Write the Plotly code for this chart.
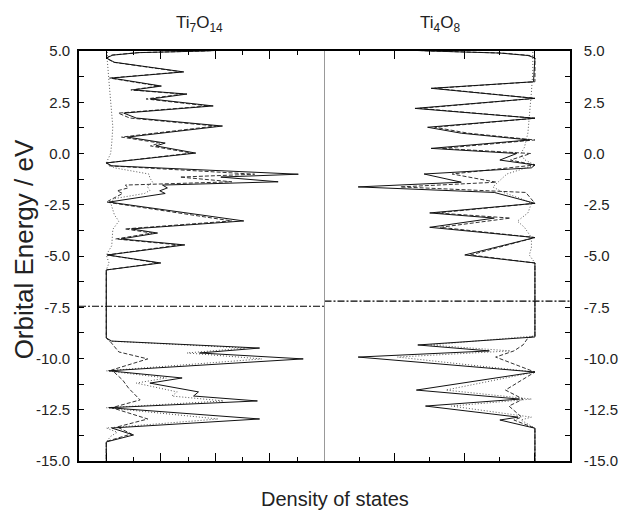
import plotly.graph_objects as go

# ---------------- Ti7O14 (left panel) ----------------
# total DOS (solid)
l_tot_E = [5.1, 5.0, 4.92, 4.80, 4.66, 4.45, 3.98, 3.68, 3.29, 3.10, 2.90, 2.66, 2.32, 1.97, 1.73,
           1.34, 0.80, 0.51, 0.37, 0.02, -0.46, -0.60, -1.01, -1.15, -1.38, -1.54, -1.68, -1.82,
           -1.95, -2.37, -3.29, -3.68, -3.88, -4.17, -4.46, -4.95, -5.34, -5.68, -9.00, -9.15,
           -9.49, -9.73, -10.02, -10.60, -10.95, -11.20, -11.63, -11.83, -12.07, -12.40, -12.95,
           -13.39, -13.73, -14.07, -15.0]
l_tot_D = [2.60, 1.80, 0.60, 0.12, 0.00, 0.15, 1.42, 0.10, 1.01, 0.50, 1.48, 0.82, 1.96, 0.32, 0.55,
           2.13, 0.39, 1.08, 0.91, 1.64, 0.00, 0.10, 3.52, 2.10, 3.15, 1.03, 1.12, 0.98,
           1.08, 0.05, 2.52, 0.46, 0.94, 0.27, 1.44, 0.02, 1.00, 0.00, 0.00, 0.10,
           2.81, 1.71, 3.61, 0.05, 1.39, 0.80, 1.69, 1.60, 2.77, 0.05, 2.81,
           0.10, 0.50, 0.00, 0.00]
# Ti partial DOS (dashed)
l_ti_E = [5.1, 5.0, 4.92, 4.80, 4.66, 4.45, 3.98, 3.68, 3.29, 3.10, 2.90, 2.66, 2.32, 1.97, 1.73,
          1.34, 0.80, 0.51, 0.37, 0.02, -0.46, -0.60, -1.01, -1.15, -1.38, -1.54, -1.68, -1.82,
          -1.95, -2.37, -3.29, -3.68, -3.88, -4.17, -4.46, -4.95, -5.34, -5.68, -9.00, -9.10,
          -9.68, -10.02, -10.56, -11.05, -11.45, -12.02, -12.40, -12.95, -13.34, -13.68, -14.05, -15.0]
l_ti_D = [2.58, 1.78, 0.58, 0.10, 0.00, 0.13, 1.38, 0.06, 0.96, 0.45, 1.40, 0.73, 1.87, 0.22, 0.43,
          2.01, 0.28, 0.98, 0.81, 1.56, 0.00, 0.05, 2.72, 1.35, 2.30, 0.35, 0.40, 0.20,
          0.30, 0.00, 2.30, 0.34, 0.84, 0.17, 1.34, 0.02, 0.95, 0.00, 0.00, 0.05,
          0.23, 0.76, 0.10, 0.30, 0.41, 0.62, 0.10, 0.76, 0.20, 0.46, 0.00, 0.00]
# O partial DOS (dotted)
l_o_E = [5.1, 4.5, 3.5, 2.3, 1.3, 0.5, 0.0, -0.46, -0.70, -1.00, -1.20, -1.40, -1.60, -1.80, -1.95,
         -2.20, -2.40, -3.00, -3.30, -3.70, -4.50, -4.95, -5.34, -5.68, -9.00, -9.15, -9.49, -9.73,
         -10.02, -10.60, -10.95, -11.20, -11.63, -11.83, -12.07, -12.40, -12.95, -13.39, -13.60,
         -13.80, -14.07, -15.0]
l_o_D = [0.02, 0.02, 0.05, 0.09, 0.12, 0.10, 0.08, 0.00, 0.15, 0.78, 0.80, 0.85, 0.75, 0.80, 0.70,
         0.15, 0.08, 0.15, 0.23, 0.12, 0.10, 0.00, 0.05, 0.00, 0.00, 0.05, 2.55, 1.48,
         2.85, 0.00, 1.10, 0.55, 1.30, 1.20, 2.15, 0.00, 2.05, 0.00, 0.20,
         0.08, 0.00, 0.00]
l_fermi = -7.45

# ---------------- Ti4O8 (right panel) ----------------
r_tot_E = [5.1, 5.0, 4.90, 4.78, 4.66, 3.50, 3.18, 2.69, 2.20, 1.72, 1.28, 0.99, 0.66, 0.25, 0.00,
           -0.32, -0.56, -0.70, -1.00, -1.40, -1.63, -1.90, -2.43, -2.90, -3.15, -3.60, -4.10,
           -4.95, -5.34, -8.95, -9.34, -9.63, -9.93, -10.66, -11.54, -11.98, -12.32, -12.86,
           -13.00, -13.40, -15.0]
r_tot_D = [2.20, 1.50, 0.50, 0.10, 0.00, 0.02, 1.48, 0.00, 1.71, 0.00, 1.53, 1.05, 0.08, 1.48, 0.26,
           0.50, 0.00, 0.05, 1.58, 1.05, 2.52, 0.58, 0.00, 1.50, 0.58, 1.50, 0.00,
           1.00, 0.00, 0.00, 1.67, 0.65, 2.52, 0.00, 1.69, 0.22, 1.56, 0.24,
           0.50, 0.00, 0.00]
r_ti_E = [5.1, 5.0, 4.90, 4.78, 4.66, 3.50, 3.18, 2.69, 2.20, 1.72, 1.28, 0.99, 0.66, 0.25, 0.00,
          -0.32, -0.56, -1.00, -1.40, -1.63, -1.90, -2.43, -2.90, -3.15, -3.60, -4.10,
          -4.95, -5.34, -8.90, -9.00, -9.34, -9.63, -9.93, -10.66, -11.54, -11.98, -12.32,
          -12.86, -13.00, -13.40, -15.0]
r_ti_D = [2.17, 1.47, 0.47, 0.07, 0.00, 0.00, 1.43, 0.00, 1.64, 0.00, 1.43, 0.95, 0.00, 1.33, 0.06,
          0.35, 0.00, 1.18, 0.55, 1.92, 0.13, 0.00, 1.40, 0.35, 1.35, 0.00,
          0.92, 0.00, 0.00, 0.10, 0.17, 0.30, 0.56, 0.00, 0.42, 0.17, 0.37,
          0.19, 0.30, 0.00, 0.00]
r_o_E = [5.1, 4.0, 3.0, 2.0, 1.0, 0.3, 0.0, -0.3, -0.56, -1.00, -1.30, -1.63, -1.90, -2.20, -2.43,
         -2.90, -3.30, -3.60, -4.10, -4.60, -4.95, -5.34, -8.90, -9.34, -9.63, -9.93, -10.66,
         -11.54, -11.98, -12.32, -12.86, -13.00, -13.40, -15.0]
r_o_D = [0.03, 0.03, 0.05, 0.07, 0.10, 0.15, 0.20, 0.15, 0.00, 0.40, 0.50, 0.60, 0.45, 0.20, 0.05,
         0.10, 0.25, 0.15, 0.05, 0.05, 0.08, 0.00, 0.00, 1.50, 0.35, 1.96, 0.00,
         1.27, 0.05, 1.19, 0.05, 0.20, 0.00, 0.00]
r_fermi = -7.20

# axes / labels
left_title = "Ti<sub>7</sub>O<sub>14</sub>"
right_title = "Ti<sub>4</sub>O<sub>8</sub>"
y_label = "Orbital Energy / eV"
x_label = "Density of states"
ytick_vals = [5.0, 2.5, 0.0, -2.5, -5.0, -7.5, -10.0, -12.5, -15.0]
ytick_text = ["5.0", "2.5", "0.0", "-2.5", "-5.0", "-7.5", "-10.0", "-12.5", "-15.0"]
y_range = [-15, 5]
xl_range = [-0.5, 4]
xr_range = [3, -0.5]

FONT = "Liberation Sans, Arial, Helvetica, sans-serif"
styles = {
    "tot": dict(color="#111111", width=1.0, dash="solid"),
    "ti": dict(color="#333333", width=1.0, dash="4px,2px"),
    "o": dict(color="#555555", width=1.0, dash="1px,2px"),
}

fig = go.Figure()

def add(E, D, key, xa, ya):
    fig.add_trace(go.Scatter(x=D, y=E, mode="lines", xaxis=xa, yaxis=ya,
                             line=dict(shape="linear", **styles[key]),
                             showlegend=False, hoverinfo="skip"))

add(l_o_E, l_o_D, "o", "x", "y")
add(l_ti_E, l_ti_D, "ti", "x", "y")
add(l_tot_E, l_tot_D, "tot", "x", "y")
add(r_o_E, r_o_D, "o", "x2", "y2")
add(r_ti_E, r_ti_D, "ti", "x2", "y2")
add(r_tot_E, r_tot_D, "tot", "x2", "y2")

fermi_line = dict(color="#000000", width=1.2, dash="7px,2px,2px,2px")
fig.add_trace(go.Scatter(x=xl_range, y=[l_fermi, l_fermi], mode="lines", xaxis="x", yaxis="y",
                         line=fermi_line, showlegend=False, hoverinfo="skip"))
fig.add_trace(go.Scatter(x=xr_range, y=[r_fermi, r_fermi], mode="lines", xaxis="x2", yaxis="y2",
                         line=fermi_line, showlegend=False, hoverinfo="skip"))

xcommon = dict(showline=True, linecolor="black", linewidth=1.6, mirror="ticks",
               ticks="inside", ticklen=8, tickwidth=1.4, tickcolor="black", dtick=1, tick0=0,
               showticklabels=False, showgrid=False, zeroline=False,
               minor=dict(ticks="inside", ticklen=4, tickwidth=1.2, dtick=0.5, tickcolor="black",
                          showgrid=False))
ycommon = dict(range=y_range, showline=True, linecolor="black", linewidth=1.6,
               ticks="inside", ticklen=5, tickwidth=1.2, tickcolor="black",
               tickmode="array", tickvals=ytick_vals, ticktext=ytick_text,
               showgrid=False, zeroline=False,
               tickfont=dict(family=FONT, size=15, color="#222222"),
               minor=dict(ticks="inside", ticklen=5, tickwidth=1.2, dtick=1.25, tick0=0,
                          tickcolor="black", showgrid=False))

fig.update_layout(
    width=630, height=510,
    margin=dict(l=79, r=45, t=51, b=49),
    paper_bgcolor="white", plot_bgcolor="white",
    font=dict(family=FONT, color="#222222"),
    xaxis=dict(domain=[0, 0.5], range=xl_range, anchor="y", **xcommon),
    xaxis2=dict(domain=[0.5, 1], range=xr_range, anchor="y2", **xcommon),
    yaxis=dict(anchor="x", side="left", ticklabelstandoff=4, **ycommon),
    yaxis2=dict(anchor="x2", side="right", ticklabelstandoff=9, **ycommon),
    shapes=[dict(type="line", xref="paper", yref="paper", x0=0.5, x1=0.5, y0=0, y1=1,
                 line=dict(color="#999999", width=1))],
    annotations=[
        dict(text=left_title, xref="paper", yref="paper", x=0.245, y=1.066, showarrow=False,
             xanchor="center", yanchor="middle", font=dict(size=17, family=FONT)),
        dict(text=right_title, xref="paper", yref="paper", x=0.735, y=1.066, showarrow=False,
             xanchor="center", yanchor="middle", font=dict(size=17, family=FONT)),
        dict(text=y_label, xref="paper", yref="paper", x=-0.113, y=0.515, showarrow=False,
             textangle=-90, xanchor="center", yanchor="middle", font=dict(size=26, family=FONT)),
        dict(text=x_label, xref="paper", yref="paper", x=0.522, y=-0.092, showarrow=False,
             xanchor="center", yanchor="middle", font=dict(size=20, family=FONT)),
    ],
)

fig.write_html("out.html", config={"displayModeBar": False},
               post_script="document.body.style.margin='0px';document.body.style.overflow='hidden';")
